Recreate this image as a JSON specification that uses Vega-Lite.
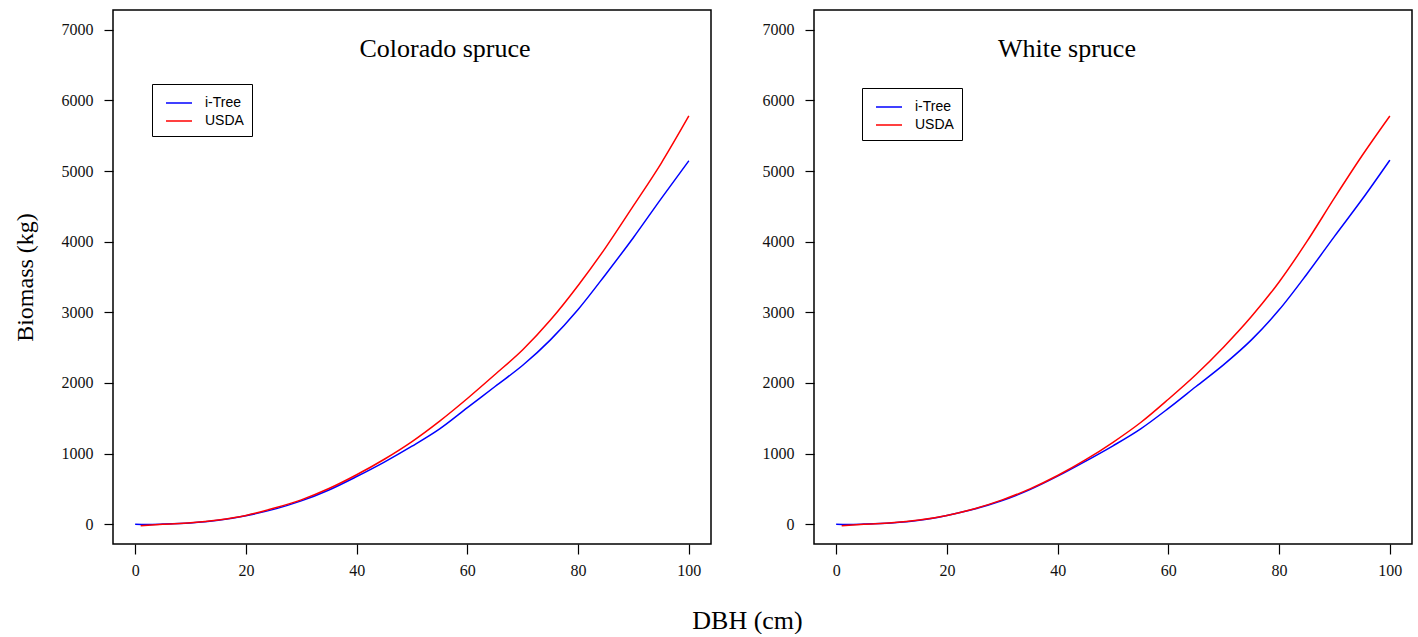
{
  "$schema": "https://vega.github.io/schema/vega-lite/v6.json",
  "background": "white",
  "autosize": {"type": "pad"},
  "padding": {"left": 12, "top": 9, "right": 0, "bottom": 0},
  "config": {
    "view": {"stroke": "#000000", "strokeWidth": 1.5},
    "axis": {
      "domain": false, "grid": false, "tickColor": "#000000", "tickWidth": 1.2,
      "labelFont": "Liberation Serif", "labelFontSize": 16, "labelColor": "#111111",
      "titleFont": "Liberation Serif", "titleFontWeight": "normal", "titleColor": "#000000"
    },
    "title": {"font": "Liberation Serif", "fontWeight": "normal", "color": "#000000"}
  },
  "title": {"text": "DBH (cm)", "orient": "bottom", "anchor": "middle", "fontSize": 26, "offset": 29, "dx": 35},
  "datasets": {
    "biomass": [
      {"species": "Colorado spruce", "model": "i-Tree", "dbh": 0, "biomass": 0},
      {"species": "Colorado spruce", "model": "i-Tree", "dbh": 2, "biomass": -3},
      {"species": "Colorado spruce", "model": "i-Tree", "dbh": 5, "biomass": 2},
      {"species": "Colorado spruce", "model": "i-Tree", "dbh": 10, "biomass": 18},
      {"species": "Colorado spruce", "model": "i-Tree", "dbh": 15, "biomass": 55},
      {"species": "Colorado spruce", "model": "i-Tree", "dbh": 20, "biomass": 120},
      {"species": "Colorado spruce", "model": "i-Tree", "dbh": 25, "biomass": 210},
      {"species": "Colorado spruce", "model": "i-Tree", "dbh": 30, "biomass": 330},
      {"species": "Colorado spruce", "model": "i-Tree", "dbh": 35, "biomass": 485},
      {"species": "Colorado spruce", "model": "i-Tree", "dbh": 40, "biomass": 675},
      {"species": "Colorado spruce", "model": "i-Tree", "dbh": 45, "biomass": 880},
      {"species": "Colorado spruce", "model": "i-Tree", "dbh": 50, "biomass": 1105},
      {"species": "Colorado spruce", "model": "i-Tree", "dbh": 55, "biomass": 1350},
      {"species": "Colorado spruce", "model": "i-Tree", "dbh": 60, "biomass": 1650},
      {"species": "Colorado spruce", "model": "i-Tree", "dbh": 65, "biomass": 1950},
      {"species": "Colorado spruce", "model": "i-Tree", "dbh": 70, "biomass": 2250},
      {"species": "Colorado spruce", "model": "i-Tree", "dbh": 75, "biomass": 2610},
      {"species": "Colorado spruce", "model": "i-Tree", "dbh": 80, "biomass": 3040},
      {"species": "Colorado spruce", "model": "i-Tree", "dbh": 85, "biomass": 3540},
      {"species": "Colorado spruce", "model": "i-Tree", "dbh": 90, "biomass": 4060},
      {"species": "Colorado spruce", "model": "i-Tree", "dbh": 95, "biomass": 4610},
      {"species": "Colorado spruce", "model": "i-Tree", "dbh": 100, "biomass": 5145},
      {"species": "Colorado spruce", "model": "USDA", "dbh": 1, "biomass": -20},
      {"species": "Colorado spruce", "model": "USDA", "dbh": 3, "biomass": -10},
      {"species": "Colorado spruce", "model": "USDA", "dbh": 5, "biomass": 0},
      {"species": "Colorado spruce", "model": "USDA", "dbh": 10, "biomass": 20},
      {"species": "Colorado spruce", "model": "USDA", "dbh": 15, "biomass": 60},
      {"species": "Colorado spruce", "model": "USDA", "dbh": 20, "biomass": 125},
      {"species": "Colorado spruce", "model": "USDA", "dbh": 25, "biomass": 225},
      {"species": "Colorado spruce", "model": "USDA", "dbh": 30, "biomass": 345},
      {"species": "Colorado spruce", "model": "USDA", "dbh": 35, "biomass": 505},
      {"species": "Colorado spruce", "model": "USDA", "dbh": 40, "biomass": 700},
      {"species": "Colorado spruce", "model": "USDA", "dbh": 45, "biomass": 920},
      {"species": "Colorado spruce", "model": "USDA", "dbh": 50, "biomass": 1170},
      {"species": "Colorado spruce", "model": "USDA", "dbh": 55, "biomass": 1460},
      {"species": "Colorado spruce", "model": "USDA", "dbh": 60, "biomass": 1780},
      {"species": "Colorado spruce", "model": "USDA", "dbh": 65, "biomass": 2120},
      {"species": "Colorado spruce", "model": "USDA", "dbh": 70, "biomass": 2470},
      {"species": "Colorado spruce", "model": "USDA", "dbh": 75, "biomass": 2890},
      {"species": "Colorado spruce", "model": "USDA", "dbh": 80, "biomass": 3380},
      {"species": "Colorado spruce", "model": "USDA", "dbh": 85, "biomass": 3920},
      {"species": "Colorado spruce", "model": "USDA", "dbh": 90, "biomass": 4510},
      {"species": "Colorado spruce", "model": "USDA", "dbh": 95, "biomass": 5110},
      {"species": "Colorado spruce", "model": "USDA", "dbh": 100, "biomass": 5780},
      {"species": "White spruce", "model": "i-Tree", "dbh": 0, "biomass": 0},
      {"species": "White spruce", "model": "i-Tree", "dbh": 2, "biomass": -3},
      {"species": "White spruce", "model": "i-Tree", "dbh": 5, "biomass": 2},
      {"species": "White spruce", "model": "i-Tree", "dbh": 10, "biomass": 18},
      {"species": "White spruce", "model": "i-Tree", "dbh": 15, "biomass": 55},
      {"species": "White spruce", "model": "i-Tree", "dbh": 20, "biomass": 125},
      {"species": "White spruce", "model": "i-Tree", "dbh": 25, "biomass": 215},
      {"species": "White spruce", "model": "i-Tree", "dbh": 30, "biomass": 335},
      {"species": "White spruce", "model": "i-Tree", "dbh": 35, "biomass": 490},
      {"species": "White spruce", "model": "i-Tree", "dbh": 40, "biomass": 680},
      {"species": "White spruce", "model": "i-Tree", "dbh": 45, "biomass": 890},
      {"species": "White spruce", "model": "i-Tree", "dbh": 50, "biomass": 1110},
      {"species": "White spruce", "model": "i-Tree", "dbh": 55, "biomass": 1350},
      {"species": "White spruce", "model": "i-Tree", "dbh": 60, "biomass": 1640},
      {"species": "White spruce", "model": "i-Tree", "dbh": 65, "biomass": 1950},
      {"species": "White spruce", "model": "i-Tree", "dbh": 70, "biomass": 2260},
      {"species": "White spruce", "model": "i-Tree", "dbh": 75, "biomass": 2610},
      {"species": "White spruce", "model": "i-Tree", "dbh": 80, "biomass": 3035},
      {"species": "White spruce", "model": "i-Tree", "dbh": 85, "biomass": 3540},
      {"species": "White spruce", "model": "i-Tree", "dbh": 90, "biomass": 4075},
      {"species": "White spruce", "model": "i-Tree", "dbh": 95, "biomass": 4600},
      {"species": "White spruce", "model": "i-Tree", "dbh": 100, "biomass": 5155},
      {"species": "White spruce", "model": "USDA", "dbh": 1, "biomass": -20},
      {"species": "White spruce", "model": "USDA", "dbh": 3, "biomass": -10},
      {"species": "White spruce", "model": "USDA", "dbh": 5, "biomass": 0},
      {"species": "White spruce", "model": "USDA", "dbh": 10, "biomass": 20},
      {"species": "White spruce", "model": "USDA", "dbh": 15, "biomass": 60},
      {"species": "White spruce", "model": "USDA", "dbh": 20, "biomass": 125},
      {"species": "White spruce", "model": "USDA", "dbh": 25, "biomass": 220},
      {"species": "White spruce", "model": "USDA", "dbh": 30, "biomass": 345},
      {"species": "White spruce", "model": "USDA", "dbh": 35, "biomass": 500},
      {"species": "White spruce", "model": "USDA", "dbh": 40, "biomass": 690},
      {"species": "White spruce", "model": "USDA", "dbh": 45, "biomass": 910},
      {"species": "White spruce", "model": "USDA", "dbh": 50, "biomass": 1160},
      {"species": "White spruce", "model": "USDA", "dbh": 55, "biomass": 1440},
      {"species": "White spruce", "model": "USDA", "dbh": 60, "biomass": 1770},
      {"species": "White spruce", "model": "USDA", "dbh": 65, "biomass": 2120},
      {"species": "White spruce", "model": "USDA", "dbh": 70, "biomass": 2510},
      {"species": "White spruce", "model": "USDA", "dbh": 75, "biomass": 2940},
      {"species": "White spruce", "model": "USDA", "dbh": 80, "biomass": 3430},
      {"species": "White spruce", "model": "USDA", "dbh": 85, "biomass": 4000},
      {"species": "White spruce", "model": "USDA", "dbh": 90, "biomass": 4620},
      {"species": "White spruce", "model": "USDA", "dbh": 95, "biomass": 5220},
      {"species": "White spruce", "model": "USDA", "dbh": 100, "biomass": 5780}
    ]
  },
  "bounds": "flush",
  "spacing": 103,
  "resolve": {"legend": {"color": "independent"}, "scale": {"color": "independent"}},
  "hconcat": [
    {
      "width": 598, "height": 534,
      "data": {"name": "biomass"},
      "transform": [{"filter": "datum.species === 'Colorado spruce'"}],
      "title": {"text": "Colorado spruce", "fontSize": 26, "offset": -73, "baseline": "alphabetic", "anchor": "middle", "dx": 33},
      "mark": {"type": "line", "strokeWidth": 1.5, "clip": true, "interpolate": "monotone"},
      "encoding": {
        "x": {"field": "dbh", "type": "quantitative", "scale": {"domain": [-4, 104], "nice": false, "zero": false},
              "axis": {"title": null, "values": [0, 20, 40, 60, 80, 100], "format": "d", "tickSize": 10, "labelPadding": 8, "labelFont": "Liberation Serif", "labelFontSize": 16}},
        "y": {"field": "biomass", "type": "quantitative", "scale": {"domain": [-280, 7280], "nice": false, "zero": false},
              "axis": {"title": "Biomass (kg)", "titleFontSize": 24, "titlePadding": 24, "values": [0, 1000, 2000, 3000, 4000, 5000, 6000, 7000], "format": "d", "tickSize": 9, "labelPadding": 11, "labelFont": "Liberation Serif", "labelFontSize": 16}},
        "color": {"field": "model", "type": "nominal",
                  "scale": {"domain": ["i-Tree", "USDA"], "range": ["#0000FF", "#FF0000"]},
                  "legend": {"title": null, "orient": "none", "legendX": 39, "legendY": 74, "strokeColor": "#000000", "fillColor": "#FFFFFF",
                             "padding": 8, "symbolOffset": 8, "symbolType": "M-1.3,0H1.3", "symbolSize": 400, "symbolStrokeWidth": 1.5,
                             "labelFont": "Liberation Sans", "labelFontSize": 14, "labelColor": "#000000", "labelOffset": 15, "rowPadding": -4}}
      }
    },
    {
      "width": 598, "height": 534,
      "data": {"name": "biomass"},
      "transform": [{"filter": "datum.species === 'White spruce'"}],
      "title": {"text": "White spruce", "fontSize": 26, "offset": -73, "baseline": "alphabetic", "anchor": "middle", "dx": -46},
      "mark": {"type": "line", "strokeWidth": 1.5, "clip": true, "interpolate": "monotone"},
      "encoding": {
        "x": {"field": "dbh", "type": "quantitative", "scale": {"domain": [-4, 104], "nice": false, "zero": false},
              "axis": {"title": null, "values": [0, 20, 40, 60, 80, 100], "format": "d", "tickSize": 10, "labelPadding": 8, "labelFont": "Liberation Serif", "labelFontSize": 16}},
        "y": {"field": "biomass", "type": "quantitative", "scale": {"domain": [-280, 7280], "nice": false, "zero": false},
              "axis": {"title": null, "values": [0, 1000, 2000, 3000, 4000, 5000, 6000, 7000], "format": "d", "tickSize": 9, "labelPadding": 11, "labelFont": "Liberation Serif", "labelFontSize": 16}},
        "color": {"field": "model", "type": "nominal",
                  "scale": {"domain": ["i-Tree", "USDA"], "range": ["#0000FF", "#FF0000"]},
                  "legend": {"title": null, "orient": "none", "legendX": 48, "legendY": 78, "strokeColor": "#000000", "fillColor": "#FFFFFF",
                             "padding": 8, "symbolOffset": 8, "symbolType": "M-1.3,0H1.3", "symbolSize": 400, "symbolStrokeWidth": 1.5,
                             "labelFont": "Liberation Sans", "labelFontSize": 14, "labelColor": "#000000", "labelOffset": 15, "rowPadding": -4}}
      }
    }
  ]
}
